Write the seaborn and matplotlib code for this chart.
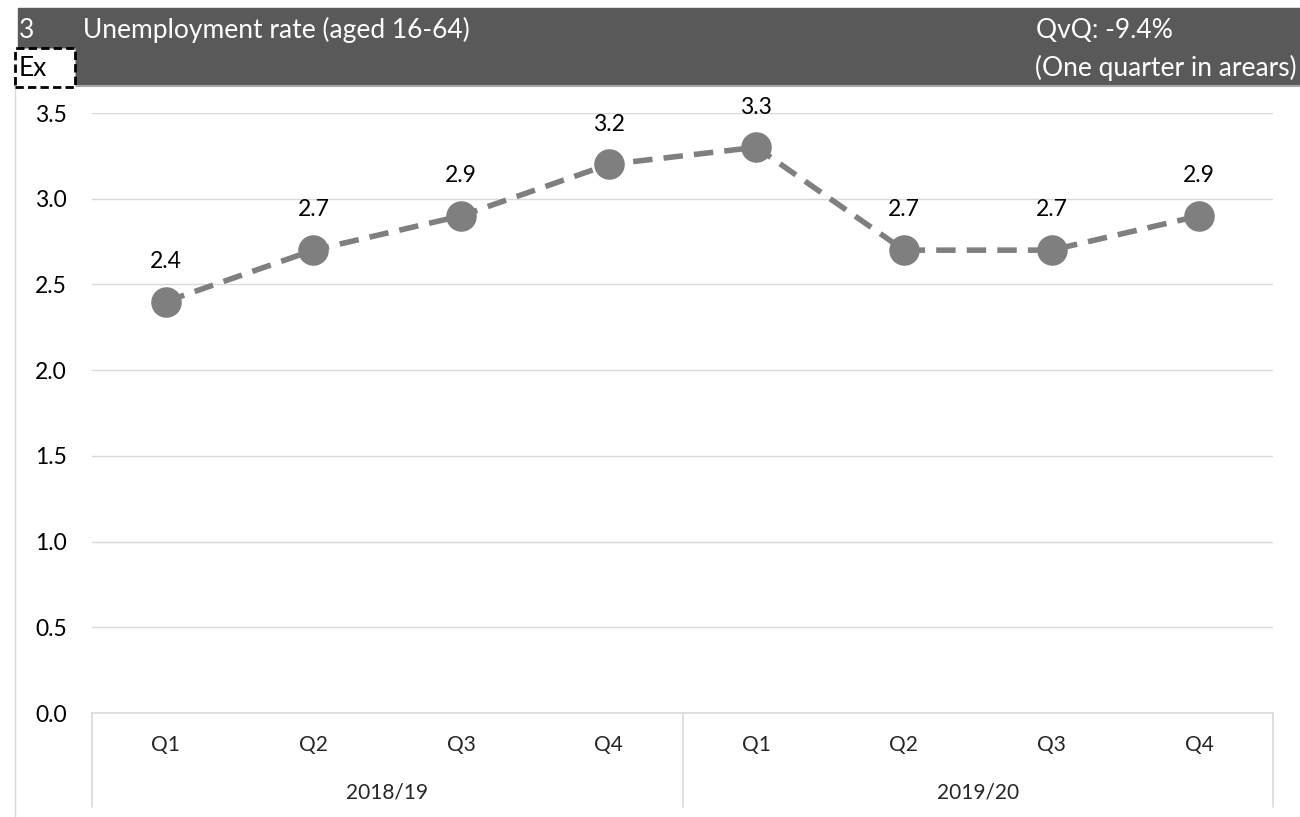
import numpy as np
import pandas as pd
import matplotlib
matplotlib.use('Agg')
import matplotlib.pyplot as plt
import matplotlib.patches as patches
import matplotlib.transforms as mtransforms
import seaborn as sns

# Dados do gráfico
quarters = ['Q1', 'Q2', 'Q3', 'Q4', 'Q1', 'Q2', 'Q3', 'Q4']
years = ['2018/19', '2019/20']
rate = [2.4, 2.7, 2.9, 3.2, 3.3, 2.7, 2.7, 2.9]
y_ticks = [0.0, 0.5, 1.0, 1.5, 2.0, 2.5, 3.0, 3.5]

title_num = '3'
title = 'Unemployment rate (aged 16-64)'
qvq_text = 'QvQ: -9.4%'
note_text = '(One quarter in arears)'

sns.set_style('white')
plt.rcParams['font.family'] = ['Lato', 'DejaVu Sans']

W, H = 1300, 817
fig = plt.figure(figsize=(13, 8.17), dpi=100)

def fx(px):
    return px / W

def fy(py):
    return 1 - py / H

ax = fig.add_axes([fx(92), fy(713), fx(1273 - 92), (713 - 113) / H])

df = pd.DataFrame({'pos': np.arange(len(rate)), 'rate': rate})
sns.lineplot(data=df, x='pos', y='rate', ax=ax, color='#7f7f7f', linewidth=4,
             marker='o', markersize=22, markeredgewidth=0, markerfacecolor='#7f7f7f')
ax.lines[0].set_dashes([3.5, 2.0])

# rótulos de dados
for i, v in enumerate(rate):
    ax.annotate(f'{v:.1f}', (i, v), xytext=(0, 29), textcoords='offset points',
                ha='center', va='center', fontsize=16.5, color='#000000')

ax.set_xlim(-0.5, len(rate) - 0.5)
ax.set_ylim(0, 3.5)
ax.set_yticks(y_ticks)
ax.set_yticklabels([f'{t:.1f}' for t in y_ticks], fontsize=16.5, color='#000000')
ax.tick_params(axis='y', length=0, pad=18)
ax.set_xticks([])
ax.set_xlabel('')
ax.set_ylabel('')
ax.grid(axis='y', color='#d9d9d9', linewidth=1)
for s in ['top', 'right', 'left']:
    ax.spines[s].set_visible(False)
ax.spines['bottom'].set_color('#d9d9d9')
ax.spines['bottom'].set_linewidth(1.2)

# eixo x em dois níveis
trans = mtransforms.blended_transform_factory(ax.transData, ax.transAxes)
for i, q in enumerate(quarters):
    ax.text(i, -0.053, q, transform=trans, ha='center', va='center', fontsize=15)
for j, yr in enumerate(years):
    ax.text(j * 4 + 1.5, -0.132, yr, transform=trans, ha='center', va='center', fontsize=15)
for xs in [-0.5, 3.5, 7.5]:
    ax.plot([xs, xs], [0, -0.157], transform=trans, color='#d9d9d9', linewidth=1.2, clip_on=False)

# cabeçalho
fig.patches.append(patches.Rectangle((fx(18), fy(84)), fx(1300 - 18), (84 - 8) / H,
                                     transform=fig.transFigure, color='#595959', zorder=0))
fig.lines.append(plt.Line2D([fx(15), fx(1300)], [fy(86), fy(86)], transform=fig.transFigure,
                            color='#a6a6a6', linewidth=1.5))
fig.lines.append(plt.Line2D([fx(15), fx(15)], [fy(86), fy(817)], transform=fig.transFigure,
                            color='#d9d9d9', linewidth=1))
fig.text(fx(19), fy(30), title_num, color='white', fontsize=19, va='center', ha='left')
fig.text(fx(83), fy(30), title, color='white', fontsize=19, va='center', ha='left')
fig.text(fx(1036), fy(30), qvq_text, color='white', fontsize=19, va='center', ha='left')
fig.text(fx(1297), fy(68), note_text, color='white', fontsize=19, va='center', ha='right')

fig.patches.append(patches.Rectangle((fx(15), fy(87)), fx(75 - 15), (87 - 48) / H,
                                     transform=fig.transFigure, facecolor='white',
                                     edgecolor='black', linestyle=(0, (3, 1.5)), linewidth=2, zorder=2))
fig.text(fx(19), fy(68), 'Ex', color='black', fontsize=19, va='center', ha='left', zorder=3)

fig.savefig('out.png', dpi=100)
